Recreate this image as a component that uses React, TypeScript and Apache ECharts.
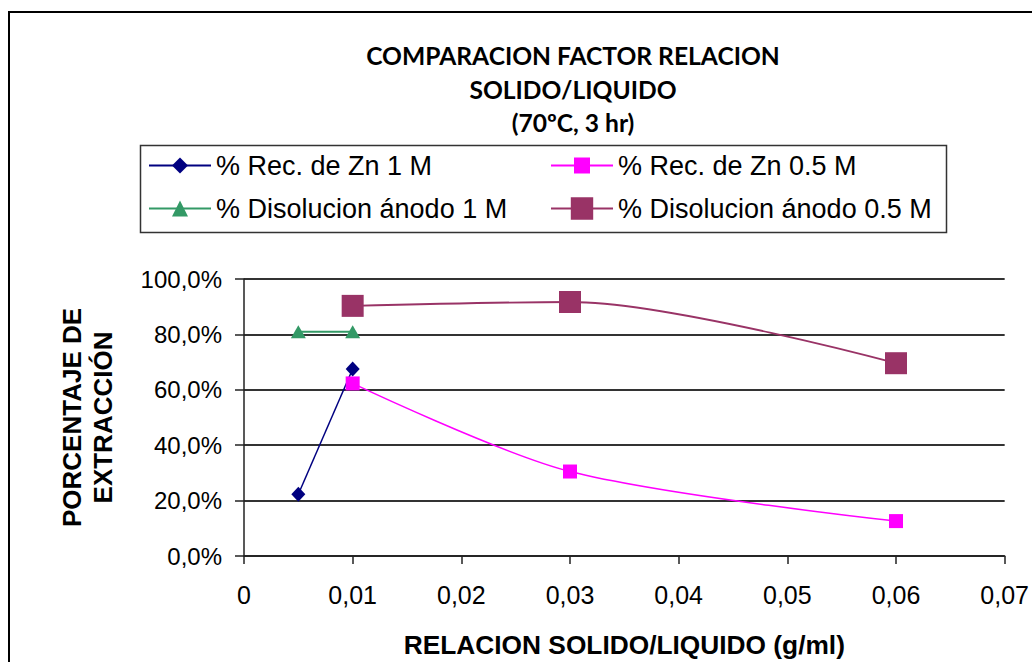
import React, { useEffect, useRef } from "react";
import * as echarts from "echarts";

const titleLines = ["COMPARACION FACTOR RELACION", "SOLIDO/LIQUIDO", "(70ºC, 3 hr)"];
const xAxisName = "RELACION SOLIDO/LIQUIDO (g/ml)";
const yAxisName = "PORCENTAJE DE\nEXTRACCIÓN";

const seriesNames = [
  "% Rec. de Zn 1 M",
  "% Disolucion ánodo 1 M",
  "% Rec. de Zn 0.5 M",
  "% Disolucion ánodo 0.5 M",
];

const recZn1M_x = [0.005, 0.01];
const recZn1M_y = [22.3, 67.5];

const disol1M_x = [0.005, 0.01];
const disol1M_y = [81.0, 81.0];

const recZn05M_x = [0.01, 0.03, 0.06];
const recZn05M_y = [62.3, 30.5, 12.6];

const disol05M_x = [0.01, 0.03, 0.06];
const disol05M_y = [90.3, 91.7, 69.6];

const xMin = 0;
const xMax = 0.07;
const xStep = 0.01;
const yMin = 0;
const yMax = 100;
const yStep = 20;

const pairs = (xs: number[], ys: number[]) => xs.map((x, i) => [x, ys[i]]);

export default function App() {
  const ref = useRef<HTMLDivElement>(null);
  useEffect(() => {
    if (!ref.current) return;
    const chart = echarts.init(ref.current, null, { renderer: "svg" });
    const font = "Liberation Sans";
    const legendBase = {
      padding: 0,
      itemWidth: 62,
      itemHeight: 20,
      textStyle: { fontSize: 27, fontFamily: font, color: "#000" },
      selectedMode: false,
    };
    chart.setOption({
      animation: false,
      backgroundColor: "#fff",
      title: {
        text: titleLines.join("\n"),
        left: 568,
        top: 34,
        textAlign: "center",
        textStyle: {
          fontFamily: "Lato",
          fontWeight: "bold",
          fontSize: 24.6,
          lineHeight: 33.5,
          color: "#000",
        },
      },
      legend: [
        { ...legendBase, data: [seriesNames[0]], left: 148, top: 152 },
        { ...legendBase, data: [seriesNames[1]], left: 148, top: 195 },
        { ...legendBase, data: [seriesNames[2]], left: 550, top: 152 },
        { ...legendBase, data: [seriesNames[3]], left: 550, top: 195, itemHeight: 28 },
      ],
      grid: { left: 244, right: 24, top: 279, bottom: 106, containLabel: false },
      xAxis: {
        type: "value",
        min: xMin,
        max: xMax,
        interval: xStep,
        name: xAxisName,
        nameLocation: "middle",
        nameGap: 76,
        nameTextStyle: { fontFamily: font, fontWeight: "bold", fontSize: 26.3, color: "#000" },
        axisLine: { show: true, lineStyle: { color: "#222", width: 1.5 } },
        axisTick: { show: true, length: 8, lineStyle: { color: "#222", width: 1.5 } },
        splitLine: { show: false },
        axisLabel: {
          margin: 26,
          fontFamily: font,
          fontSize: 25,
          color: "#000",
          formatter: (v: number) => (v === 0 ? "0" : v.toFixed(2).replace(".", ",")),
        },
      },
      yAxis: {
        type: "value",
        min: yMin,
        max: yMax,
        interval: yStep,
        name: yAxisName,
        nameLocation: "middle",
        nameRotate: 90,
        nameGap: 126,
        nameTextStyle: {
          fontFamily: font,
          fontWeight: "bold",
          fontSize: 26,
          lineHeight: 31,
          color: "#000",
        },
        axisLine: { show: true, lineStyle: { color: "#222", width: 1.5 } },
        axisTick: { show: true, length: 9, lineStyle: { color: "#222", width: 1.5 } },
        splitLine: { show: true, lineStyle: { color: "#333", width: 1.8 } },
        axisLabel: {
          margin: 22,
          fontFamily: font,
          fontSize: 24,
          color: "#000",
          formatter: (v: number) => v.toFixed(1).replace(".", ",") + "%",
        },
      },
      graphic: [
        {
          type: "rect",
          silent: true,
          z: -10,
          shape: { x: 9, y: 12, width: 1100, height: 700 },
          style: { fill: "none", stroke: "#000", lineWidth: 2 },
        },
        {
          type: "rect",
          silent: true,
          z: -10,
          shape: { x: 140.5, y: 145.5, width: 806, height: 87 },
          style: { fill: "none", stroke: "#333", lineWidth: 1.5 },
        },
      ],
      series: [
        {
          name: seriesNames[0],
          type: "line",
          data: pairs(recZn1M_x, recZn1M_y),
          symbol: "diamond",
          symbolSize: [14, 15],
          lineStyle: { color: "#000080", width: 1.5 },
          itemStyle: { color: "#000080" },
          z: 3,
        },
        {
          name: seriesNames[1],
          type: "line",
          data: pairs(disol1M_x, disol1M_y),
          symbol: "triangle",
          symbolSize: [15, 13],
          lineStyle: { color: "#339966", width: 2 },
          itemStyle: { color: "#339966" },
          z: 3,
        },
        {
          name: seriesNames[2],
          type: "line",
          data: pairs(recZn05M_x, recZn05M_y),
          symbol: "rect",
          symbolSize: 14,
          smooth: 0.3,
          lineStyle: { color: "#ff00ff", width: 1.5 },
          itemStyle: { color: "#ff00ff" },
          z: 4,
        },
        {
          name: seriesNames[3],
          type: "line",
          data: pairs(disol05M_x, disol05M_y),
          symbol: "rect",
          symbolSize: 22,
          smooth: 0.3,
          lineStyle: { color: "#993366", width: 1.8 },
          itemStyle: { color: "#993366" },
          z: 2,
        },
      ],
    });
    return () => chart.dispose();
  }, []);
  return (
    <div
      ref={ref}
      style={{ position: "fixed", left: 0, top: 0, width: 1032, height: 662, background: "#fff" }}
    />
  );
}
